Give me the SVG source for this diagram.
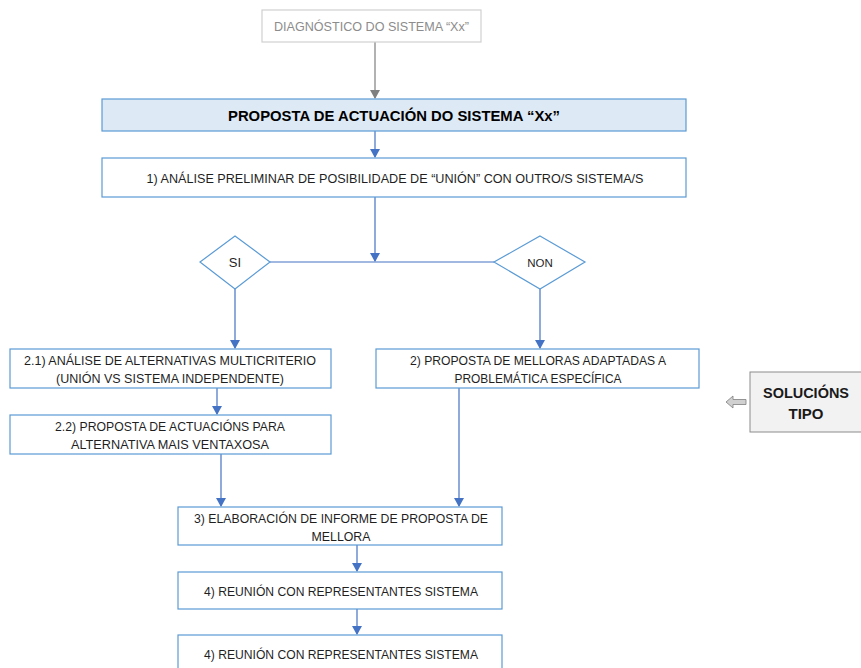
<svg xmlns="http://www.w3.org/2000/svg" width="861" height="668" viewBox="0 0 861 668">
<defs>
<style>
.box{fill:#ffffff;stroke:#5b9bd5;stroke-width:1.2}
.t{font-family:"Liberation Sans",Arial,sans-serif;font-size:13px;fill:#1f1f1f;text-anchor:middle}
.b{font-weight:bold;font-size:15px}
.ln{stroke:#4472c4;stroke-width:1.2;fill:none}
</style>
<marker id="ah" markerWidth="10" markerHeight="10" refX="8" refY="5" orient="auto" markerUnits="userSpaceOnUse">
<path d="M0,0 L9,5 L0,10 Z" fill="#4472c4"/>
</marker>
<marker id="ahg" markerWidth="10" markerHeight="10" refX="8" refY="5" orient="auto" markerUnits="userSpaceOnUse">
<path d="M0,0 L9,5 L0,10 Z" fill="#7f7f7f"/>
</marker>
</defs>
<rect width="861" height="668" fill="#ffffff"/>
<g id="connectors">
<line x1="375" y1="42" x2="375" y2="98" stroke="#7f7f7f" stroke-width="1.2" marker-end="url(#ahg)"/>
<line class="ln" x1="375" y1="131" x2="375" y2="157" marker-end="url(#ah)"/>
<line class="ln" x1="375" y1="197" x2="375" y2="261" marker-end="url(#ah)"/>
<line class="ln" x1="270" y1="262" x2="494" y2="262"/>
<line class="ln" x1="235" y1="289" x2="235" y2="348" marker-end="url(#ah)"/>
<line class="ln" x1="540" y1="289" x2="540" y2="348" marker-end="url(#ah)"/>
<line class="ln" x1="217" y1="388" x2="217" y2="414" marker-end="url(#ah)"/>
<line class="ln" x1="221" y1="454" x2="221" y2="506" marker-end="url(#ah)"/>
<line class="ln" x1="459" y1="388" x2="459" y2="506" marker-end="url(#ah)"/>
<line class="ln" x1="357" y1="545" x2="357" y2="571" marker-end="url(#ah)"/>
<line class="ln" x1="357" y1="609" x2="357" y2="634" marker-end="url(#ah)"/>
</g>
<g id="diagnostico">
<rect x="262" y="10" width="219" height="32" fill="#ffffff" stroke="#d0d0d0" stroke-width="1.2"/>
<text class="t" x="371.5" y="31" style="fill:#8c8c8c" textLength="195" lengthAdjust="spacingAndGlyphs">DIAGNÓSTICO DO SISTEMA “Xx”</text>
</g>
<g id="proposta">
<rect x="102" y="99" width="584" height="32" fill="#dde9f5" stroke="#5b9bd5" stroke-width="1.2"/>
<text class="t b" x="394" y="120.5" style="fill:#000000" textLength="332" lengthAdjust="spacingAndGlyphs">PROPOSTA DE ACTUACIÓN DO SISTEMA “Xx”</text>
</g>
<g id="n1">
<rect class="box" x="102" y="158" width="584" height="39"/>
<text class="t" x="395" y="182.5" textLength="497" lengthAdjust="spacingAndGlyphs">1) ANÁLISE PRELIMINAR DE POSIBILIDADE DE “UNIÓN” CON OUTRO/S SISTEMA/S</text>
</g>
<g id="si">
<polygon points="235,236 270,262 235,289 200,262" fill="#ffffff" stroke="#5b9bd5" stroke-width="1.2"/>
<text class="t" x="235" y="267">SI</text>
</g>
<g id="non">
<polygon points="540,236 585,262 540,289 494,262" fill="#ffffff" stroke="#5b9bd5" stroke-width="1.2"/>
<text class="t" x="540" y="266.5" style="font-size:11.5px">NON</text>
</g>
<g id="n21">
<rect class="box" x="10" y="349" width="321" height="39"/>
<text class="t" x="170" y="364.5" textLength="292" lengthAdjust="spacingAndGlyphs">2.1) ANÁLISE DE ALTERNATIVAS MULTICRITERIO</text>
<text class="t" x="170" y="382.5" textLength="228" lengthAdjust="spacingAndGlyphs">(UNIÓN VS SISTEMA INDEPENDENTE)</text>
</g>
<g id="n2">
<rect class="box" x="376" y="349" width="323" height="39"/>
<text class="t" x="538" y="364.5" textLength="256" lengthAdjust="spacingAndGlyphs">2) PROPOSTA DE MELLORAS ADAPTADAS A</text>
<text class="t" x="538" y="382.5" textLength="167" lengthAdjust="spacingAndGlyphs">PROBLEMÁTICA ESPECÍFICA</text>
</g>
<g id="n22">
<rect class="box" x="10" y="415" width="321" height="39"/>
<text class="t" x="170" y="430.5" textLength="230" lengthAdjust="spacingAndGlyphs">2.2) PROPOSTA DE ACTUACIÓNS PARA</text>
<text class="t" x="170" y="448.5" textLength="198" lengthAdjust="spacingAndGlyphs">ALTERNATIVA MAIS VENTAXOSA</text>
</g>
<g id="n3">
<rect class="box" x="178" y="507" width="324" height="38"/>
<text class="t" x="341" y="522.5" textLength="294" lengthAdjust="spacingAndGlyphs">3) ELABORACIÓN DE INFORME DE PROPOSTA DE</text>
<text class="t" x="341" y="540.5" textLength="59" lengthAdjust="spacingAndGlyphs">MELLORA</text>
</g>
<g id="n4">
<rect class="box" x="178" y="572" width="324" height="37"/>
<text class="t" x="341" y="595.5" textLength="274" lengthAdjust="spacingAndGlyphs">4) REUNIÓN CON REPRESENTANTES SISTEMA</text>
</g>
<g id="n4b">
<rect class="box" x="178" y="635" width="324" height="40"/>
<text class="t" x="341" y="658.5" textLength="274" lengthAdjust="spacingAndGlyphs">4) REUNIÓN CON REPRESENTANTES SISTEMA</text>
</g>
<g id="solucions">
<rect x="750" y="372" width="115" height="60" fill="#f2f2f2" stroke="#8c8c8c" stroke-width="1"/>
<text class="t b" x="806" y="398" style="fill:#1a1a1a" textLength="86" lengthAdjust="spacingAndGlyphs">SOLUCIÓNS</text>
<text class="t b" x="806" y="419" style="fill:#1a1a1a">TIPO</text>
<path d="M726,402 L733,396 L733,399.5 L746,399.5 L746,404.5 L733,404.5 L733,408 Z" fill="#d0d0d0" stroke="#7f7f7f" stroke-width="0.8"/>
</g>
</svg>
